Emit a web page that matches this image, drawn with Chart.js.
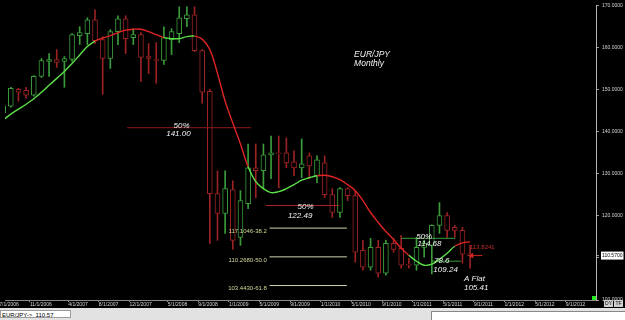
<!DOCTYPE html>
<html>
<head>
<meta charset="utf-8">
<title>EUR/JPY Monthly</title>
<script src="https://cdn.jsdelivr.net/npm/chart.js@4.4.0/dist/chart.umd.min.js"></script>
<style>
  body { margin: 0; background: #000; width: 625px; height: 320px; overflow: hidden; position: relative; font-family: 'Liberation Sans', Arial, sans-serif; }
  #wrap { position: absolute; left: 0; top: 0; width: 625px; height: 308px; }
  canvas { display: block; background: #000; }
  #status { position: absolute; left: 0; top: 308px; width: 625px; height: 12px; background: #e2e2e2; }
  #sym { position: absolute; left: 0; top: 2px; width: 71px; height: 8px; background: #fff; border: 1px solid #9a9a9a; font-size: 6px; line-height: 8px; color: #000; padding-left: 1px; box-sizing: border-box; }
  #box2 { position: absolute; left: 431px; top: 3px; width: 194px; height: 9px; background: #fff; border-top: 1px solid #888; border-left: 1px solid #888; box-sizing: border-box; }
  .btn { position: absolute; top: 300px; height: 7px; width: 9px; background: #d0d0d0; color: #000; font-size: 5px; line-height: 7px; text-align: center; }
  #live { position: absolute; left: 592px; top: 296px; width: 4px; height: 4px; background: #22ee22; }
</style>
</head>
<body>
<div id="wrap"><canvas id="fxChart" width="625" height="308"></canvas></div>
<div id="live"></div>
<div class="btn" style="left:604px">DY</div>
<div class="btn" style="left:614px">TF</div>
<div id="status"><div id="sym">EUR/JPY-&gt;&nbsp; 110.57</div><div id="box2"></div></div>
<script>
// months counted from Jan 2006 (0 = 1/2006)
var firstMonth = 6;
var opens  = [144.50, 146.12, 150.14, 149.90, 148.72, 153.21, 156.76, 157.23, 156.76, 157.23, 162.91, 163.38, 166.69, 161.96, 157.47, 163.85, 166.93, 162.43, 163.14, 157.94, 157.23, 156.99, 161.96, 163.38, 166.93, 167.87, 159.36, 149.66, 125.31, 120.58, 126.26, 114.91, 122.94, 131.46, 130.75, 134.53, 135.00, 135.00, 132.88, 131.46, 134.30, 129.57, 132.64, 125.07, 120.82, 126.49, 124.84, 111.83, 107.81, 112.54, 106.39, 113.49, 112.30, 108.52, 108.28, 112.54, 113.01, 117.74, 120.11, 117.27, 116.56, 111.00];
var highs  = [147.00, 150.61, 150.37, 150.61, 153.40, 157.47, 158.65, 159.60, 157.94, 163.38, 165.03, 167.16, 169.05, 162.67, 164.33, 167.64, 167.64, 164.56, 163.62, 161.01, 161.25, 165.03, 164.56, 169.76, 169.76, 169.76, 159.60, 150.14, 130.75, 130.75, 128.38, 126.02, 137.13, 137.13, 137.13, 139.02, 139.02, 138.55, 135.48, 138.31, 135.00, 134.30, 134.30, 126.49, 126.73, 126.73, 126.02, 114.20, 114.67, 114.20, 114.20, 114.67, 115.38, 109.94, 114.91, 114.20, 117.90, 123.18, 120.82, 117.74, 117.27, 113.01];
var lows   = [143.50, 145.88, 147.30, 148.01, 148.50, 152.97, 153.21, 155.34, 150.61, 156.76, 160.78, 160.78, 161.01, 148.96, 155.10, 160.78, 158.65, 160.78, 152.03, 153.92, 151.56, 156.05, 158.41, 161.25, 165.03, 159.12, 146.83, 113.49, 114.20, 115.85, 112.06, 113.01, 121.76, 124.36, 126.73, 128.86, 126.73, 131.46, 129.57, 129.09, 128.86, 127.91, 124.36, 119.63, 119.63, 123.65, 108.99, 107.10, 107.10, 105.45, 105.90, 111.36, 107.57, 107.57, 107.10, 110.17, 106.20, 115.85, 114.91, 114.91, 108.76, 107.57];
var closes = [146.10, 150.37, 149.43, 148.72, 153.21, 156.99, 157.23, 156.52, 157.47, 163.14, 163.62, 166.69, 161.72, 157.47, 163.85, 166.93, 162.20, 163.14, 157.70, 157.47, 156.99, 162.43, 163.85, 167.16, 167.87, 159.36, 149.43, 125.31, 120.58, 126.49, 114.20, 123.65, 131.46, 130.75, 134.53, 135.00, 134.77, 132.64, 131.46, 132.40, 131.93, 133.35, 125.07, 120.82, 126.49, 124.84, 111.36, 107.81, 112.54, 106.39, 113.49, 112.06, 108.28, 108.28, 112.54, 113.49, 117.74, 120.11, 116.56, 116.56, 110.88, 110.57];
var maLine = [142.81, 144.23, 145.41, 146.59, 147.89, 149.43, 151.08, 152.74, 154.39, 156.29, 158.30, 160.31, 161.61, 162.32, 162.91, 163.62, 164.21, 164.44, 164.44, 163.85, 163.14, 162.43, 162.20, 162.20, 162.67, 162.79, 162.08, 159.60, 153.92, 147.30, 142.10, 137.13, 131.69, 128.15, 126.49, 125.55, 125.78, 126.49, 127.44, 128.50, 129.09, 129.57, 129.68, 129.33, 128.62, 127.44, 126.02, 123.65, 120.82, 118.45, 116.32, 114.43, 112.30, 110.65, 109.23, 108.28, 108.52, 109.70, 111.12, 112.78, 113.60, 113.82];
var maTrend = ['up','up','up','up','up','up','up','up','up','up','up','up',
               'dn','dn','dn','dn','dn','dn','dn','dn','dn',
               'up','up','up','up',
               'dn','dn','dn','dn','dn','dn','dn',
               'up','up','up','up','up','up','up','up','up',
               'dn','dn','dn','dn','dn','dn','dn','dn','dn','dn','dn','dn',
               'up','up','up','up','up','up',
               'dn','dn','dn'];

var tickMonths = [6, 10, 15, 19, 23, 28, 32, 36, 40, 44, 48, 52, 56, 60, 64, 68, 72, 76, 80];
var tickLabels = ['7/1/2006', '11/1/2006', '4/1/2007', '8/1/2007', '12/1/2007', '5/1/2008', '9/1/2008', '1/1/2009', '5/1/2009', '9/1/2009', '1/1/2010', '5/1/2010', '9/1/2010', '1/1/2011', '5/1/2011', '9/1/2011', '1/1/2012', '5/1/2012', '9/1/2012'];
var priceTicks = [100, 110, 120, 130, 140, 150, 160, 170];
var lastPrice = 110.57;
var maLastLabel = 113.8241;

var half2008 = 141.00, half2009 = 122.49, half2011 = 114.68;
var fibLevels = [117.1046, 110.2680, 103.4430];
var fibPct = ['38.2', '50.0', '61.8'];
var retrace786 = 109.24;
var flatTarget = 105.41;

var upCol = '#3a9c3a', dnCol = '#9a2222';
var maUp = '#5ee04a', maDn = '#e02424';

var months = opens.map(function (o, i) { return firstMonth + i; });
var isUp = opens.map(function (o, i) { return closes[i] >= o; });
var candleCol = isUp.map(function (u) { return u ? upCol : dnCol; });

function hline(y, m0, m1, col) {
    return { type: 'line', data: [{ x: m0, y: y }, { x: m1, y: y }], borderColor: col, borderWidth: 1, pointRadius: 0, order: 1 };
}

var notes = [
    { t: '50%', m: 29.3, p: half2008, dy: -1.5, a: 'center' },
    { t: half2008.toFixed(2), m: 28.9, p: half2008, dy: 6.5, a: 'center' },
    { t: '50%', m: 45.5, p: half2009, dy: 1, a: 'center' },
    { t: half2009.toFixed(2), m: 44.8, p: half2009, dy: 10, a: 'center' },
    { t: '50%', m: 61.0, p: half2011, dy: -1.5, a: 'center' },
    { t: half2011.toFixed(2), m: 61.7, p: half2011, dy: 5, a: 'center' },
    { t: '78.6', m: 63.3, p: retrace786, dy: 0, a: 'center' },
    { t: retrace786.toFixed(2), m: 63.8, p: retrace786, dy: 9, a: 'center' },
    { t: 'A Flat', m: 66.2, p: flatTarget, dy: 1.3, a: 'left' },
    { t: flatTarget.toFixed(2), m: 66.2, p: flatTarget, dy: 10.3, a: 'left' },
    { t: 'EUR/JPY', m: 51.85, p: 158.3, dy: 0, a: 'left', f: 'italic 8.5px "Liberation Sans"' },
    { t: 'Monthly', m: 51.85, p: 156.17, dy: 0, a: 'left', f: 'italic 8.5px "Liberation Sans"' },
    { t: maLastLabel.toFixed(4), m: 67.0, p: maLastLabel, dy: 5, a: 'left', f: '6px "Liberation Sans"', c: '#c22a2a' }
];
fibLevels.forEach(function (v, i) {
    notes.push({ t: v.toFixed(4) + '-' + fibPct[i], m: 40.45, p: v, dy: 3, a: 'right', f: '6px "Liberation Sans"', c: '#d6d69c' });
});

var notesPlugin = {
    id: 'notes',
    afterDatasetsDraw: function (chart) {
        var ctx = chart.ctx, x = chart.scales.x, y = chart.scales.y;
        ctx.save();
        notes.forEach(function (n) {
            ctx.font = n.f || 'italic 8px "Liberation Sans"';
            ctx.fillStyle = n.c || '#f2f2f2';
            ctx.textAlign = n.a;
            ctx.textBaseline = 'middle';
            ctx.fillText(n.t, x.getPixelForValue(n.m), y.getPixelForValue(n.p) + n.dy);
        });
        ctx.restore();
    }
};

var datasets = [
    {
        type: 'line', label: 'MA',
        data: months.map(function (m, i) { return { x: m, y: maLine[i] }; }),
        borderWidth: 1.4, pointRadius: 0, tension: 0.4, order: 0,
        borderColor: maUp,
        segment: { borderColor: function (c) { return maTrend[c.p0DataIndex] === 'up' ? maUp : maDn; } }
    },
    {
        type: 'bar', label: 'wick',
        data: months.map(function (m, i) { return { x: m, y: [lows[i], highs[i]] }; }),
        backgroundColor: candleCol, barThickness: 1, grouped: false, order: 3
    },
    {
        type: 'bar', label: 'body',
        data: months.map(function (m, i) { return { x: m, y: [opens[i], closes[i]] }; }),
        backgroundColor: '#000', borderColor: candleCol, borderWidth: 1, borderSkipped: false,
        barThickness: 5, grouped: false, order: 2
    },
    hline(half2008, 22.2, 38.4, '#8e1c1c'),
    hline(half2009, 40.3, 49.9, '#a42222'),
    hline(fibLevels[0], 40.8, 50.9, '#d2d2b0'),
    hline(fibLevels[1], 40.8, 50.9, '#d2d2b0'),
    hline(fibLevels[2], 40.8, 50.9, '#d2d2b0'),
    hline(half2011, 58.05, 65.05, '#3a9c3a'),
    hline(retrace786, 61.9, 65.8, '#3a9c3a'),
    {
        type: 'line', data: [{ x: 67.2, y: lastPrice }, { x: 68.6, y: lastPrice }],
        borderColor: '#d02424', borderWidth: 1, order: 1,
        pointStyle: 'triangle', rotation: 270, pointRadius: [2.5, 0],
        pointBackgroundColor: '#d02424', pointBorderColor: '#d02424'
    }
];

new Chart(document.getElementById('fxChart').getContext('2d'), {
    data: { datasets: datasets },
    options: {
        responsive: false,
        animation: false,
        layout: { padding: 0 },
        plugins: { legend: { display: false }, tooltip: { enabled: false } },
        scales: {
            x: {
                type: 'linear', min: 6.24, max: 83.45, offset: false,
                afterBuildTicks: function (s) { s.ticks = tickMonths.map(function (m) { return { value: m - 0.5 }; }); },
                afterFit: function (s) { s.height = 8; s.paddingLeft = 0; s.paddingRight = 0; },
                ticks: {
                    autoSkip: false, maxRotation: 0, minRotation: 0, align: 'start', padding: 0,
                    color: '#d4d4d4', font: { family: 'Liberation Sans', size: 5 },
                    callback: function (v) { var k = tickMonths.indexOf(v + 0.5); return k < 0 ? '' : tickLabels[k]; }
                },
                grid: { drawOnChartArea: false, tickLength: 2, color: '#8a8a8a', offset: false },
                border: { color: '#8a8a8a' }
            },
            y: {
                position: 'right', min: 100, max: 170.2,
                afterBuildTicks: function (s) { s.ticks = priceTicks.concat([lastPrice]).map(function (v) { return { value: v }; }); },
                afterFit: function (s) { s.width = 29; s.paddingTop = 0; s.paddingBottom = 0; },
                ticks: {
                    padding: 3,
                    font: { family: 'Liberation Sans', size: 5 },
                    color: function (c) { return c.tick && c.tick.value === lastPrice ? '#000' : '#d4d4d4'; },
                    showLabelBackdrop: function (c) { return !!(c.tick && c.tick.value === lastPrice); },
                    backdropColor: '#fff', backdropPadding: 1,
                    callback: function (v) { return Number(v).toFixed(4); }
                },
                grid: { drawOnChartArea: false, tickLength: 3, color: '#9a9a9a' },
                border: { color: '#b4b4b4' }
            }
        }
    },
    plugins: [notesPlugin]
});
</script>
</body>
</html>
